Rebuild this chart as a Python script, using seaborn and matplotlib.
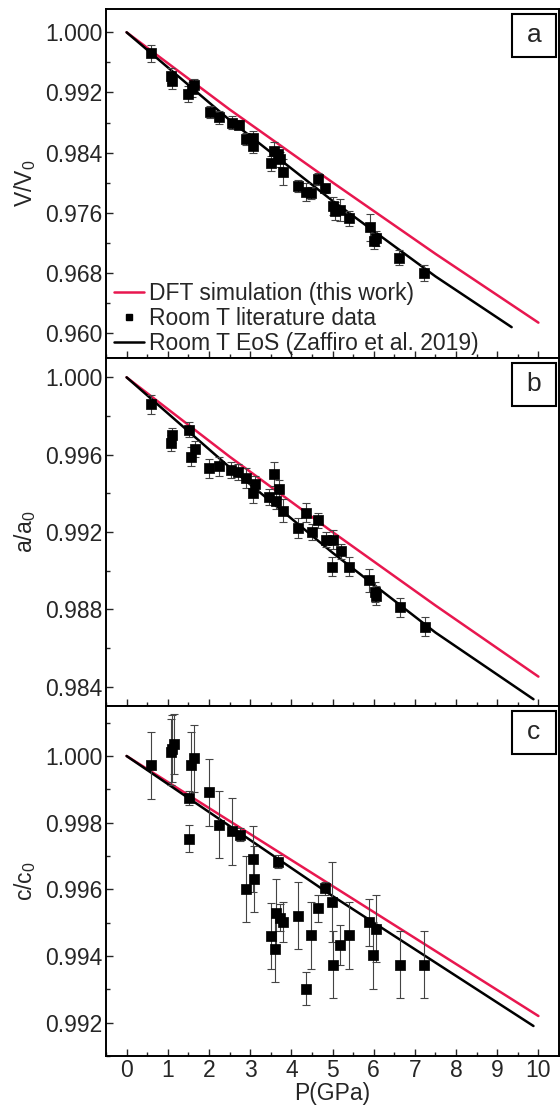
import numpy as np
import pandas as pd
import matplotlib
matplotlib.use("Agg")
import matplotlib.pyplot as plt
from matplotlib.lines import Line2D
from matplotlib.patches import Rectangle
from matplotlib.ticker import MultipleLocator, FormatStrFormatter
import seaborn as sns

# --- literature data ---
# panel a: V/V0
p_a = [0.60, 1.08, 1.10, 1.50, 1.58, 1.64, 2.03, 2.25, 2.55, 2.73, 2.90, 3.07, 3.08,
       3.51, 3.59, 3.67, 3.72, 3.79, 4.16, 4.36, 4.48, 4.64, 4.83, 5.01, 5.05, 5.19,
       5.40, 5.90, 6.00, 6.06, 6.62, 7.23]
v_a = [0.9972, 0.9942, 0.9935, 0.9918, 0.9924, 0.9930, 0.9894, 0.9887, 0.9880, 0.9877,
       0.9858, 0.9860, 0.9849, 0.9826, 0.9842, 0.9838, 0.9831, 0.9814, 0.9796, 0.9788,
       0.9787, 0.9805, 0.9793, 0.9769, 0.9763, 0.9764, 0.9753, 0.9741, 0.9722, 0.9726,
       0.9700, 0.9680]
e_a = [0.0011, 0.0010, 0.0010, 0.0010, 0.0010, 0.0008, 0.0008, 0.0009, 0.0009, 0.0006,
       0.0008, 0.0009, 0.0010, 0.0010, 0.0012, 0.0010, 0.0010, 0.0017, 0.0008, 0.0012,
       0.0008, 0.0008, 0.0006, 0.0012, 0.0012, 0.0015, 0.0010, 0.0018, 0.0010, 0.0010,
       0.0010, 0.0010]

# panel b: a/a0
p_b = [0.60, 1.07, 1.11, 1.51, 1.57, 1.65, 2.01, 2.24, 2.54, 2.70, 2.90, 3.08, 3.11,
       3.47, 3.59, 3.62, 3.69, 3.79, 4.16, 4.36, 4.50, 4.64, 4.85, 5.01, 4.99, 5.21,
       5.40, 5.89, 6.02, 6.06, 6.63, 7.24]
v_b = [0.9986, 0.9966, 0.9970, 0.9973, 0.9959, 0.9963, 0.9953, 0.9954, 0.9952, 0.9951,
       0.9948, 0.9940, 0.9945, 0.9938, 0.9950, 0.9936, 0.9942, 0.9931, 0.9922, 0.9930,
       0.9920, 0.9926, 0.9916, 0.9916, 0.9902, 0.9910, 0.9902, 0.9895, 0.9889, 0.9887,
       0.9881, 0.9871]
e_b = [0.0005, 0.0004, 0.0004, 0.0004, 0.0005, 0.0004, 0.0005, 0.0005, 0.0004, 0.0004,
       0.0005, 0.0005, 0.0004, 0.0004, 0.0006, 0.0004, 0.0005, 0.0006, 0.0005, 0.0005,
       0.0004, 0.0004, 0.0004, 0.0005, 0.0005, 0.0004, 0.0005, 0.0006, 0.0005, 0.0005,
       0.0005, 0.0005]

# panel c: c/c0
p_c = [0.60, 1.07, 1.11, 1.15, 1.51, 1.51, 1.57, 1.64, 2.01, 2.24, 2.55, 2.75, 2.91,
       3.08, 3.10, 3.50, 3.60, 3.62, 3.68, 3.72, 3.80, 4.16, 4.35, 4.49, 4.64, 4.82,
       4.99, 5.00, 5.19, 5.41, 5.89, 5.98, 6.06, 6.63, 7.23]
v_c = [0.99972, 1.00012, 1.00022, 1.00035, 0.99752, 0.99874, 0.99972, 0.99993, 0.99891,
       0.99794, 0.99774, 0.99764, 0.99601, 0.99691, 0.99631, 0.99460, 0.99422, 0.99530,
       0.99683, 0.99515, 0.99502, 0.99521, 0.99302, 0.99462, 0.99543, 0.99603, 0.99563,
       0.99374, 0.99432, 0.99462, 0.99501, 0.99402, 0.99482, 0.99374, 0.99374]
e_c = [0.0010, 0.0010, 0.0010, 0.0009, 0.0004, 0.0002, 0.0010, 0.0010, 0.0010, 0.0010,
       0.0010, 0.0002, 0.0010, 0.0010, 0.0010, 0.0010, 0.0010, 0.0010, 0.0002, 0.0004,
       0.0006, 0.0010, 0.0005, 0.0010, 0.0004, 0.0002, 0.0012, 0.0010, 0.0006, 0.0010,
       0.0007, 0.0010, 0.0010, 0.0010, 0.0010]

# --- curves ---
dft_p_a = [0, 2.5, 5.0, 7.5, 10.0]
dft_v_a = [1.0, 0.98975, 0.98005, 0.97055, 0.9614]
eos_p_a = [0, 2.5, 5.0, 7.5, 9.35]
eos_v_a = [1.0, 0.98835, 0.97760, 0.96755, 0.9608]

dft_p_b = [0, 2.5, 5.0, 7.5, 10.0]
dft_v_b = [1.0, 0.99590, 0.99200, 0.98820, 0.98452]
eos_p_b = [0, 2.5, 5.0, 7.5, 9.88]
eos_v_b = [1.0, 0.99535, 0.99093, 0.98680, 0.98335]

dft_p_c = [0, 5.0, 10.0]
dft_v_c = [1.0, 0.9961, 0.9922]
eos_p_c = [0, 5.0, 9.88]
eos_v_c = [1.0, 0.9958, 0.9919]

sns.set_theme(style="ticks")
plt.rcParams['font.family'] = ['Liberation Sans', 'DejaVu Sans']
plt.rcParams['mathtext.fontset'] = 'custom'
plt.rcParams['mathtext.rm'] = 'Liberation Sans'
plt.rcParams['mathtext.it'] = 'Liberation Sans:italic'

red = '#e8174f'
fs = 16.5

fig = plt.figure(figsize=(5.6, 11.07), dpi=100)
left, width = 106 / 560, 453 / 560
H = 1107
panels = [
    (9, 358, p_a, v_a, e_a, dft_p_a, dft_v_a, eos_p_a, eos_v_a,
     (0.9567, 1.0031), 0.008, 0.004, 'V/V$_0$', 'a'),
    (358, 706, p_b, v_b, e_b, dft_p_b, dft_v_b, eos_p_b, eos_v_b,
     (0.9830, 1.0010), 0.004, 0.002, 'a/a$_0$', 'b'),
    (706, 1056, p_c, v_c, e_c, dft_p_c, dft_v_c, eos_p_c, eos_v_c,
     (0.9910, 1.0015), 0.002, 0.001, 'c/c$_0$', 'c'),
]

axes = []
for top, bot, p, v, e, dp, dv, ep, ev, ylim, maj, mnr, ylab, tag in panels:
    ax = fig.add_axes([left, 1 - bot / H, width, (bot - top) / H])
    axes.append(ax)

    sns.lineplot(x=dp, y=dv, color=red, lw=1.8, ax=ax, zorder=2)
    sns.lineplot(x=ep, y=ev, color='black', lw=1.8, ax=ax, zorder=2)
    ax.errorbar(p, v, yerr=e, fmt='none', ecolor='#444444', elinewidth=0.8,
                capsize=3, capthick=0.8, zorder=3)
    sns.scatterplot(x=p, y=v, marker='s', s=48, color='black', edgecolor='black',
                    linewidth=0.5, ax=ax, zorder=4)

    ax.set_xlim(-0.5, 10.5)
    ax.set_ylim(*ylim)
    ax.xaxis.set_major_locator(MultipleLocator(1))
    ax.xaxis.set_minor_locator(MultipleLocator(0.5))
    ax.yaxis.set_major_locator(MultipleLocator(maj))
    ax.yaxis.set_minor_locator(MultipleLocator(mnr))
    ax.yaxis.set_major_formatter(FormatStrFormatter('%.3f'))
    ax.tick_params(which='both', direction='in', top=False, right=False,
                   labelsize=fs, width=1.0, pad=2.5)
    ax.tick_params(which='major', length=5)
    ax.tick_params(which='minor', length=3)
    for s in ax.spines.values():
        s.set_linewidth(1.4)
        s.set_color('black')
    ax.set_ylabel(ylab, fontsize=fs, labelpad=5)
    ax.set_xlabel('')

    # panel tag box
    ax.add_patch(Rectangle((0.896, 0.862), 0.097, 0.125, transform=ax.transAxes,
                           fill=False, edgecolor='black', lw=1.5, zorder=5))
    ax.text(0.9445, 0.9245, tag, transform=ax.transAxes, ha='center', va='center',
            fontsize=19, zorder=6)

    if tag != 'c':
        ax.tick_params(axis='x', labelbottom=False)

axes[-1].set_xlabel('P(GPa)', fontsize=fs, labelpad=0)

handles = [
    Line2D([], [], color=red, lw=1.8),
    Line2D([], [], color='black', marker='s', ls='none', markersize=4),
    Line2D([], [], color='black', lw=1.8),
]
labels = ['DFT simulation (this work)', 'Room T literature data',
          'Room T EoS (Zaffiro et al. 2019)']
axes[0].legend(handles, labels, loc='lower left', bbox_to_anchor=(-0.013, -0.0315),
               frameon=False, fontsize=fs, handlelength=1.3, handletextpad=0.22,
               labelspacing=0.09, borderaxespad=0.2)

fig.savefig('out.png', dpi=100)
